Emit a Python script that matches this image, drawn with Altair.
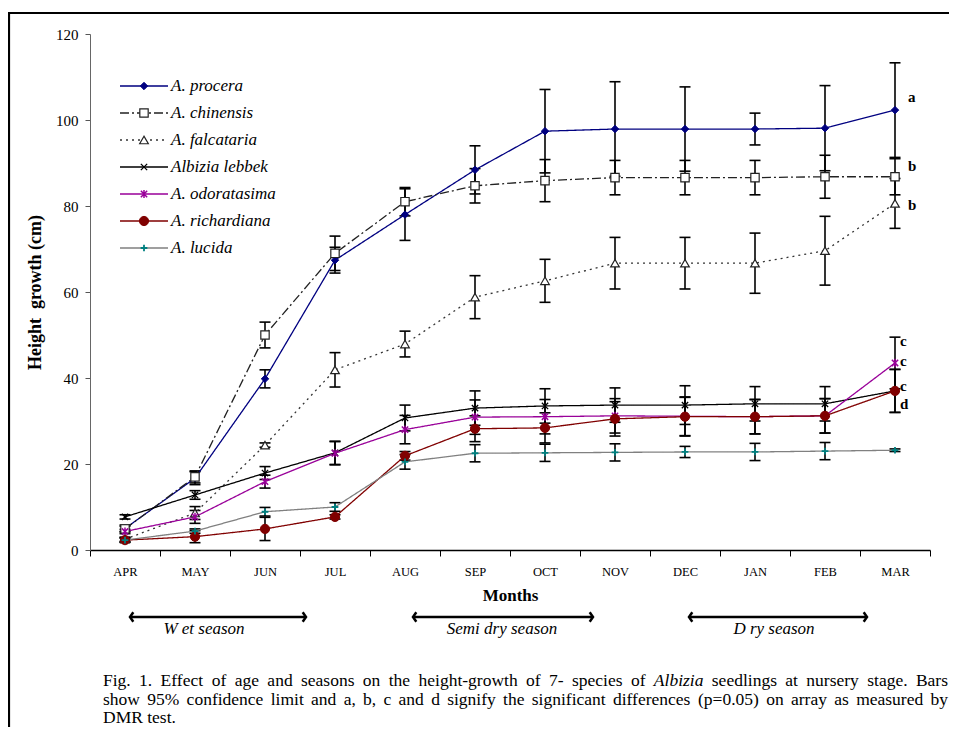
import altair as alt
import pandas as pd

months = ["APR", "MAY", "JUN", "JUL", "AUG", "SEP", "OCT", "NOV", "DEC", "JAN", "FEB", "MAR"]

species = ["A. procera", "A. chinensis", "A. falcataria", "Albizia lebbek",
           "A. odoratasima", "A. richardiana", "A. lucida"]

procera = [5.0, 16.7, 39.8, 67.4, 78.0, 88.4, 97.4, 97.9, 97.9, 97.9, 98.1, 102.3]
procera_err = [0.8, 1.5, 2.1, 3.0, 6.0, 5.6, 9.7, 11.0, 9.8, 3.7, 9.9, 11.0]

chinensis = [4.9, 17.0, 50.0, 69.0, 81.0, 84.7, 85.9, 86.6, 86.6, 86.6, 86.8, 86.8]
chinensis_err = [0.6, 1.4, 3.0, 4.0, 3.3, 4.0, 4.9, 4.0, 4.0, 4.0, 5.0, 4.2]

falcataria = [2.5, 8.6, 24.4, 41.9, 47.9, 58.8, 62.6, 66.7, 66.7, 66.7, 69.6, 80.6]
falcataria_err = [0.5, 1.5, 0.5, 4.0, 3.0, 5.0, 5.0, 6.0, 6.0, 7.0, 8.0, 5.8]

lebbek = [7.7, 12.8, 17.9, 22.6, 30.7, 33.0, 33.5, 33.7, 33.7, 34.0, 34.0, 37.0]
lebbek_err = [0.5, 1.0, 1.5, 2.7, 3.0, 4.0, 4.0, 4.0, 4.5, 4.0, 4.0, 5.0]

odoratasima = [4.3, 7.7, 15.9, 22.5, 28.0, 30.9, 31.0, 31.2, 31.1, 31.0, 31.2, 43.5]
odoratasima_err = [0.5, 1.5, 1.5, 2.7, 3.3, 4.0, 4.0, 4.0, 4.5, 4.0, 4.0, 6.0]

richardiana = [2.3, 3.1, 4.9, 7.7, 21.9, 28.2, 28.4, 30.5, 31.0, 31.0, 31.2, 37.0]
richardiana_err = [0.5, 1.4, 2.7, 0.5, 1.0, 3.0, 3.5, 4.0, 4.5, 4.0, 4.0, 5.0]

lucida = [2.3, 4.4, 8.9, 10.0, 20.5, 22.5, 22.6, 22.7, 22.8, 22.8, 23.0, 23.2]
lucida_err = [0.5, 0.5, 1.0, 1.0, 1.7, 2.0, 2.0, 2.0, 1.3, 2.0, 2.0, 0.3]

sig_letters_ab = ["a", "b", "b"]
sig_values_ab = [105.3, 89.2, 80.2]
sig_letters_cd = ["c", "c", "c", "d"]
sig_values_cd = [48.6, 44.0, 38.2, 34.0]

seasons = ["W et season", "Semi dry season", "D ry season"]

caption_line1 = "Fig. 1. Effect of age and seasons on the height-growth of 7- species of Albizia seedlings at nursery stage. Bars"
caption_line2 = "show 95% confidence limit and a, b, c and d signify the significant differences (p=0.05) on array as measured by"
caption_line3 = "DMR test."
caption_italic = ["Albizia"]

series = [procera, chinensis, falcataria, lebbek, odoratasima, richardiana, lucida]
errors = [procera_err, chinensis_err, falcataria_err, lebbek_err, odoratasima_err,
          richardiana_err, lucida_err]

X_PATH = "M-1,-1L1,1M-1,1L1,-1"
AST_PATH = "M-1,-1L1,1M-1,1L1,-1M0,-1.3L0,1.3"
PLUS_PATH = "M-1,0L1,0M0,-1L0,1"

styles = [
    dict(color="#000080", dash=[1, 0], shape="diamond", fill="#000080", stroke="#000080", size=55, sw=1),
    dict(color="#222222", dash=[9, 3, 2, 3], shape="square", fill="white", stroke="#222222", size=70, sw=1.2),
    dict(color="#333333", dash=[2, 4], shape="triangle-up", fill="white", stroke="#222222", size=75, sw=1.2),
    dict(color="#000000", dash=[1, 0], shape=X_PATH, fill="transparent", stroke="#000000", size=40, sw=1.3),
    dict(color="#990099", dash=[1, 0], shape=AST_PATH, fill="transparent", stroke="#990099", size=40, sw=1.5),
    dict(color="#800000", dash=[1, 0], shape="circle", fill="#800000", stroke="#800000", size=85, sw=1),
    dict(color="#808080", dash=[1, 0], shape=PLUS_PATH, fill="transparent", stroke="#008080", size=45, sw=1.8),
]

rows = []
for name, vals, errs in zip(species, series, errors):
    for m, v, e in zip(months, vals, errs):
        rows.append(dict(species=name, month=m, value=v, lo=v - e, hi=v + e))
df = pd.DataFrame(rows)

SERIF = "Liberation Serif, Times New Roman, serif"

# Times-metric glyph widths (per 1000 em) used to justify caption lines
TNR = {" ": 250, ".": 250, ",": 250, "-": 333, "%": 833, "(": 333, ")": 333, "=": 564}
TNR.update({c: 500 for c in "0123456789"})
TNR.update(dict(a=444, b=500, c=444, d=500, e=444, f=333, g=500, h=500, i=278, j=278, k=500,
                l=278, m=778, n=500, o=500, p=500, q=500, r=333, s=389, t=278, u=500, v=500,
                w=722, x=500, y=500, z=444))
TNR.update(dict(A=722, B=667, C=667, D=722, E=611, F=556, G=722, H=722, I=333, J=389, K=722,
                L=611, M=889, N=722, O=722, P=556, Q=722, R=667, S=556, T=611, U=722, V=722,
                W=944, X=722, Y=722, Z=611))
TNR_IT = dict(TNR)
TNR_IT.update(dict(A=611, z=389, a=500))

CAP_FS = 17.5


def word_width(w, italic):
    table = TNR_IT if italic else TNR
    return sum(table.get(ch, 500) for ch in w) * CAP_FS / 1000.0


def layout_line(text, y, left, right, justify):
    words = text.split(" ")
    ws = [word_width(w, w in caption_italic) for w in words]
    if justify and len(words) > 1:
        gap = (right - left - sum(ws)) / (len(words) - 1)
    else:
        gap = TNR[" "] * CAP_FS / 1000.0
    out = []
    x = left
    for w, wd in zip(words, ws):
        out.append(dict(w=w, px=x, py=y, it=(w in caption_italic)))
        x += wd + gap
    return out


cap_rows = (layout_line(caption_line1, 652, 13, 858, True)
            + layout_line(caption_line2, 670.5, 13, 858, True)
            + layout_line(caption_line3, 689, 13, 858, False))
cap_df = pd.DataFrame(cap_rows)

x_enc = alt.X("month:N", sort=months, title="Months",
              scale=alt.Scale(type="band", paddingInner=0, paddingOuter=0),
              axis=alt.Axis(labelAngle=0, tickBand="extent", labelFont=SERIF, labelFontSize=12.5,
                            labelColor="black", labelPadding=9, tickSize=6, tickColor="black",
                            domainColor="black", domainWidth=1.5, tickWidth=1,
                            titleFont=SERIF, titleFontSize=17, titleFontWeight="bold",
                            titleColor="black", titlePadding=10))
y_axis = alt.Axis(values=[0, 20, 40, 60, 80, 100, 120], labelFont=SERIF, labelFontSize=15,
                  labelColor="black", labelPadding=7, tickSize=5, tickColor="#555555",
                  domainColor="#666666", grid=False, titleFont=SERIF, titleFontSize=18,
                  titleFontWeight="bold", titleColor="black", titlePadding=11)
y_scale = alt.Scale(domain=[0, 120], nice=False)
Y_TITLE = "Height\u00a0 growth (cm)"

base = alt.Chart(df)

layers = []

frame = alt.Chart(pd.DataFrame({"k": [0]})).mark_rect(
    filled=False, stroke="black", strokeWidth=2.2).encode(
    x=alt.value(-81), x2=alt.value(3000), y=alt.value(-21), y2=alt.value(3000))
layers.append(frame)

err_rule = base.mark_rule(color="black", strokeWidth=1.6).encode(
    x=x_enc, y=alt.Y("lo:Q", scale=y_scale, axis=y_axis, title=Y_TITLE), y2="hi:Q")
err_lo = base.mark_tick(color="black", size=11, thickness=1.6, opacity=1).encode(
    x=x_enc, y=alt.Y("lo:Q", scale=y_scale, axis=y_axis, title=Y_TITLE))
err_hi = base.mark_tick(color="black", size=11, thickness=1.6, opacity=1).encode(
    x=x_enc, y=alt.Y("hi:Q", scale=y_scale, axis=y_axis, title=Y_TITLE))
layers += [err_rule, err_lo, err_hi]

for name, st in zip(species, styles):
    sub = alt.Chart(df[df.species == name])
    layers.append(sub.mark_line(color=st["color"], strokeDash=st["dash"], strokeWidth=1.3).encode(
        x=x_enc, y=alt.Y("value:Q", scale=y_scale, axis=y_axis, title=Y_TITLE)))

for name, st in zip(species, styles):
    sub = alt.Chart(df[df.species == name])
    layers.append(sub.mark_point(shape=st["shape"], fill=st["fill"], stroke=st["stroke"],
                                 strokeWidth=st["sw"], size=st["size"], opacity=1,
                                 fillOpacity=1).encode(
        x=x_enc, y=alt.Y("value:Q", scale=y_scale, axis=y_axis, title=Y_TITLE)))

sig_ab = alt.Chart(pd.DataFrame({"month": ["MAR"] * 3, "value": sig_values_ab, "l": sig_letters_ab})).mark_text(
    font=SERIF, fontSize=15, fontWeight="bold", align="left", baseline="middle", dx=13, color="black").encode(
    x=x_enc, y=alt.Y("value:Q", scale=y_scale, axis=y_axis, title=Y_TITLE), text="l:N")
sig_cd = alt.Chart(pd.DataFrame({"month": ["MAR"] * 4, "value": sig_values_cd, "l": sig_letters_cd})).mark_text(
    font=SERIF, fontSize=15, fontWeight="bold", align="left", baseline="middle", dx=5, color="black").encode(
    x=x_enc, y=alt.Y("value:Q", scale=y_scale, axis=y_axis, title=Y_TITLE), text="l:N")
layers += [sig_ab, sig_cd]

one = pd.DataFrame({"k": [0]})
# legend
for i, (name, st) in enumerate(zip(species, styles)):
    ly = 52 + 27 * i
    layers.append(alt.Chart(one).mark_rule(color=st["color"], strokeDash=st["dash"], strokeWidth=1.3).encode(
        x=alt.value(30), x2=alt.value(78), y=alt.value(ly)))
    layers.append(alt.Chart(one).mark_point(shape=st["shape"], fill=st["fill"], stroke=st["stroke"],
                                            strokeWidth=st["sw"], size=st["size"], opacity=1,
                                            fillOpacity=1).encode(
        x=alt.value(54), y=alt.value(ly)))
    layers.append(alt.Chart(pd.DataFrame({"t": [name]})).mark_text(
        font=SERIF, fontSize=17, fontStyle="italic", align="left", baseline="middle", color="black").encode(
        x=alt.value(81), y=alt.value(ly), text="t:N"))

# season arrows
arrow_spans = [(40, 216), (323, 503), (599, 777)]
label_centers = [114, 412, 684]
for (a, b), lab, c in zip(arrow_spans, seasons, label_centers):
    layers.append(alt.Chart(one).mark_rule(color="black", strokeWidth=2.5).encode(
        x=alt.value(a), x2=alt.value(b), y=alt.value(583)))
    layers.append(alt.Chart(one).mark_point(shape="M0.7,-1L0,0L0.7,1", filled=False, stroke="black",
                                            strokeWidth=2.5, size=90, opacity=1).encode(
        x=alt.value(a), y=alt.value(583)))
    layers.append(alt.Chart(one).mark_point(shape="M-0.7,-1L0,0L-0.7,1", filled=False, stroke="black",
                                            strokeWidth=2.5, size=90, opacity=1).encode(
        x=alt.value(b), y=alt.value(583)))
    layers.append(alt.Chart(pd.DataFrame({"t": [lab]})).mark_text(
        font=SERIF, fontSize=17, fontStyle="italic", align="center", baseline="alphabetic", color="black").encode(
        x=alt.value(c), y=alt.value(600), text="t:N"))

# caption (word-positioned so the first two lines are justified)
cap_norm = alt.Chart(cap_df[~cap_df.it]).mark_text(
    font=SERIF, fontSize=CAP_FS, align="left", baseline="alphabetic", color="black").encode(
    x=alt.X("px:Q", scale=None), y=alt.Y("py:Q", scale=None), text="w:N")
cap_ital = alt.Chart(cap_df[cap_df.it]).mark_text(
    font=SERIF, fontSize=CAP_FS, fontStyle="italic", align="left", baseline="alphabetic", color="black").encode(
    x=alt.X("px:Q", scale=None), y=alt.Y("py:Q", scale=None), text="w:N")
layers += [cap_norm, cap_ital]

chart = alt.layer(*layers).properties(
    width=840, height=516,
    autosize=alt.AutoSizeParams(type="none"),
    padding={"left": 82, "top": 26, "right": 19, "bottom": 177},
    background="white",
).configure_view(stroke=None)

chart.save("out.html", embed_options={"renderer": "svg", "actions": False})
